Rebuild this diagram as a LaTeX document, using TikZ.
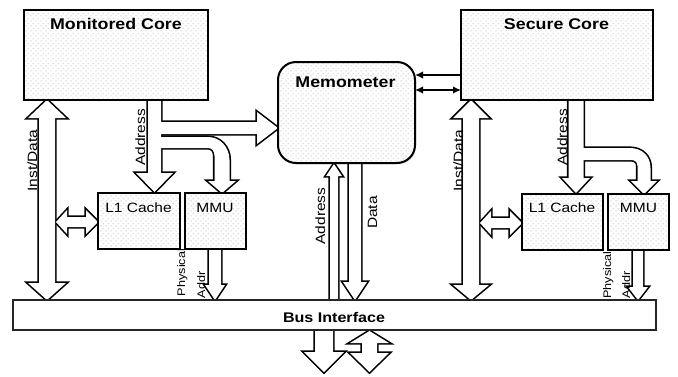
\documentclass[tikz,border=0pt]{standalone}
\usepackage{fontspec}
\newfontfamily\lab[FakeStretch=1.15]{Liberation Sans}
\usetikzlibrary{arrows.meta,patterns.meta,shadows}

\tikzdeclarepattern{
  name=sparsedots,
  type=uncolored,
  bounding box={(0pt,0pt) and (5pt,5pt)},
  tile size={(5pt,5pt)},
  code={
    \fill (1.25pt,1.25pt) circle (0.6pt);
    \fill (3.75pt,3.75pt) circle (0.6pt);
  }
}

% vertical single fat arrow: cx, half shaft, half head, ystart, ybase, ytip
\newcommand\vsingle[6]{(#1-#2,#4) -- (#1+#2,#4) -- (#1+#2,#5) -- (#1+#3,#5) -- (#1,#6) -- (#1-#3,#5) -- (#1-#2,#5) -- cycle}
% vertical double fat arrow: cx, half shaft, half head, ytop, ytopbase, ybotbase, ybot
\newcommand\vdouble[7]{(#1,#4) -- (#1+#3,#5) -- (#1+#2,#5) -- (#1+#2,#6) -- (#1+#3,#6) -- (#1,#7) -- (#1-#3,#6) -- (#1-#2,#6) -- (#1-#2,#5) -- (#1-#3,#5) -- cycle}
% horizontal single fat arrow: cy, half shaft, half head, xstart, xbase, xtip
\newcommand\hsingle[6]{(#4,#1-#2) -- (#5,#1-#2) -- (#5,#1-#3) -- (#6,#1) -- (#5,#1+#3) -- (#5,#1+#2) -- (#4,#1+#2) -- cycle}
% horizontal double fat arrow: cy, half shaft, half head, xl, xlbase, xrbase, xr
\newcommand\hdouble[7]{(#4,#1) -- (#5,#1-#3) -- (#5,#1-#2) -- (#6,#1-#2) -- (#6,#1-#3) -- (#7,#1) -- (#6,#1+#3) -- (#6,#1+#2) -- (#5,#1+#2) -- (#5,#1+#3) -- cycle}

\newcommand\fatarrows{%
  % Monitored core side
  \path[fat] \vdouble{47}{8}{19}{100}{118}{283}{300};
  \path[fat] \hdouble{222}{5}{12}{56}{67}{86}{98};
  \path[fat] \vsingle{154.5}{6.5}{18.5}{98}{173}{192};
  \path[fat] \hsingle{128}{6}{16}{154}{257}{278};
  \path[fat] (154,137) -- (208,137) .. controls (220,137) and (229.5,147) .. (229.5,160)
     -- (229.5,181) -- (236,181) -- (222,193) -- (208,181) -- (214.5,181) -- (214.5,156)
     .. controls (214.5,151) and (212,148) .. (208,148) -- (154,148) -- cycle;
  \path[fat] \vsingle{215}{6}{10}{247}{285}{300};
  % Memometer to bus
  \path[fat] \vsingle{334}{4}{8}{302}{176}{164};
  \path[fat] \vsingle{355}{6}{12}{161}{282}{300};
  % below bus
  \path[fat] \vsingle{324}{9}{20}{328}{352}{372};
  \path[fat] \vdouble{369.5}{7.5}{19.5}{331}{343}{353}{372};
  % Secure core side
  \path[fat] \vdouble{471}{8}{18}{100}{118}{285}{300};
  \path[fat] \hdouble{223}{5}{12}{480}{491}{510}{522};
  \path[fat] \vsingle{576}{7.5}{14}{98}{178}{193};
  \path[fat] (576,148) -- (630,148) .. controls (642,148) and (650.5,156) .. (650.5,168)
     -- (650.5,181) -- (657,181) -- (644,194) -- (631,181) -- (637.5,181) -- (637.5,166)
     .. controls (637.5,162) and (635,160) .. (631,160) -- (576,160) -- cycle;
  \path[fat] \vsingle{638}{5}{10}{248}{287}{300};
}

\begin{document}
\begin{tikzpicture}[x=1pt,y=-1pt,
  blk/.style={draw=black, line width=2pt, inner sep=0pt, outer sep=0pt, anchor=north west,
    drop shadow={shadow xshift=1.2pt, shadow yshift=-1.2pt, opacity=0.3},
    preaction={fill=white}, pattern={sparsedots}, pattern color=gray!75},
  title/.style={font=\lab\bfseries\fontsize{15.5}{18}\selectfont, anchor=base, inner sep=0pt},
  boxlab/.style={font=\lab\fontsize{13.5}{16}\selectfont, anchor=base, inner sep=0pt},
  vlab/.style={font=\lab\fontsize{13.5}{16}\selectfont, anchor=base, inner sep=0pt, rotate=90},
  slab/.style={font=\lab\fontsize{11}{13}\selectfont, anchor=base, inner sep=0pt, rotate=90},
  thinarr/.style={line width=1.8pt, >={Latex[length=8pt,width=7.5pt]}}
]
\fill[white] (0,0) rectangle (678,376);
\useasboundingbox (0,0) rectangle (678,376);

% fat arrows: outline pass then fill pass
\tikzset{fat/.style={draw=black, line width=3.2pt, line join=miter}}
\fatarrows
\tikzset{fat/.style={fill=white}}
\fatarrows

% boxes
\node[blk, minimum width=184pt, minimum height=90pt] (mc) at (24,10) {};
\node[blk, minimum width=192pt, minimum height=90pt] (sc) at (461,10) {};
\node[blk, minimum width=137pt, minimum height=101pt, rounded corners=18pt] (mem) at (278,62) {};
\node[blk, minimum width=82pt, minimum height=56pt] (l1a) at (98,193) {};
\node[blk, minimum width=61pt, minimum height=56pt] (mmua) at (185,193) {};
\node[blk, minimum width=81pt, minimum height=56pt] (l1b) at (522,194) {};
\node[blk, minimum width=61pt, minimum height=56pt] (mmub) at (608,194) {};
\node[draw=black!85, line width=1.3pt, fill=white, inner sep=0pt, outer sep=0pt, anchor=north west,
      drop shadow={shadow xshift=1.2pt, shadow yshift=-1.2pt, opacity=0.3},
      minimum width=643pt, minimum height=30pt] (bus) at (13,300) {};

% titles
\node[title] (tmc) at (116,29) {Monitored Core};
\node[title] (tsc) at (556.5,29) {Secure Core};
\node[title] (tmem) at (345.5,87) {Memometer};
\node[font=\lab\bfseries\fontsize{14}{16}\selectfont, anchor=base, inner sep=0pt] (tbus) at (334,322) {Bus Interface};
\node[boxlab] (tl1a) at (138.5,212) {L1 Cache};
\node[boxlab] (tmmua) at (215,212) {MMU};
\node[boxlab] (tl1b) at (562,212) {L1 Cache};
\node[boxlab] (tmmub) at (638.5,212) {MMU};

% rotated labels
\node[vlab] (lid1) at (37,160.5) {Inst/Data};
\node[vlab] (lad1) at (145,137.5) {Address};
\node[vlab] (lid2) at (463,160.5) {Inst/Data};
\node[vlab] (lad2) at (567,137.5) {Address};
\node[vlab] (lad3) at (325,216) {Address};
\node[vlab] (ldat) at (377,212.5) {Data};
\node[slab] (lph1) at (185,272.5) {Physical};
\node[slab] (lpa1) at (205,285) {Addr};
\node[slab] (lph2) at (611,275) {Physical};
\node[slab] (lpa2) at (630,285) {Addr};

% thin arrows between Memometer and Secure Core
\coordinate (ya) at (0,75);
\coordinate (yb) at (0,90);
\draw[thinarr, ->] (sc.west |- ya) -- (mem.east |- ya);
\draw[thinarr, <->] (mem.east |- yb) -- (sc.west |- yb);
\end{tikzpicture}
\end{document}
